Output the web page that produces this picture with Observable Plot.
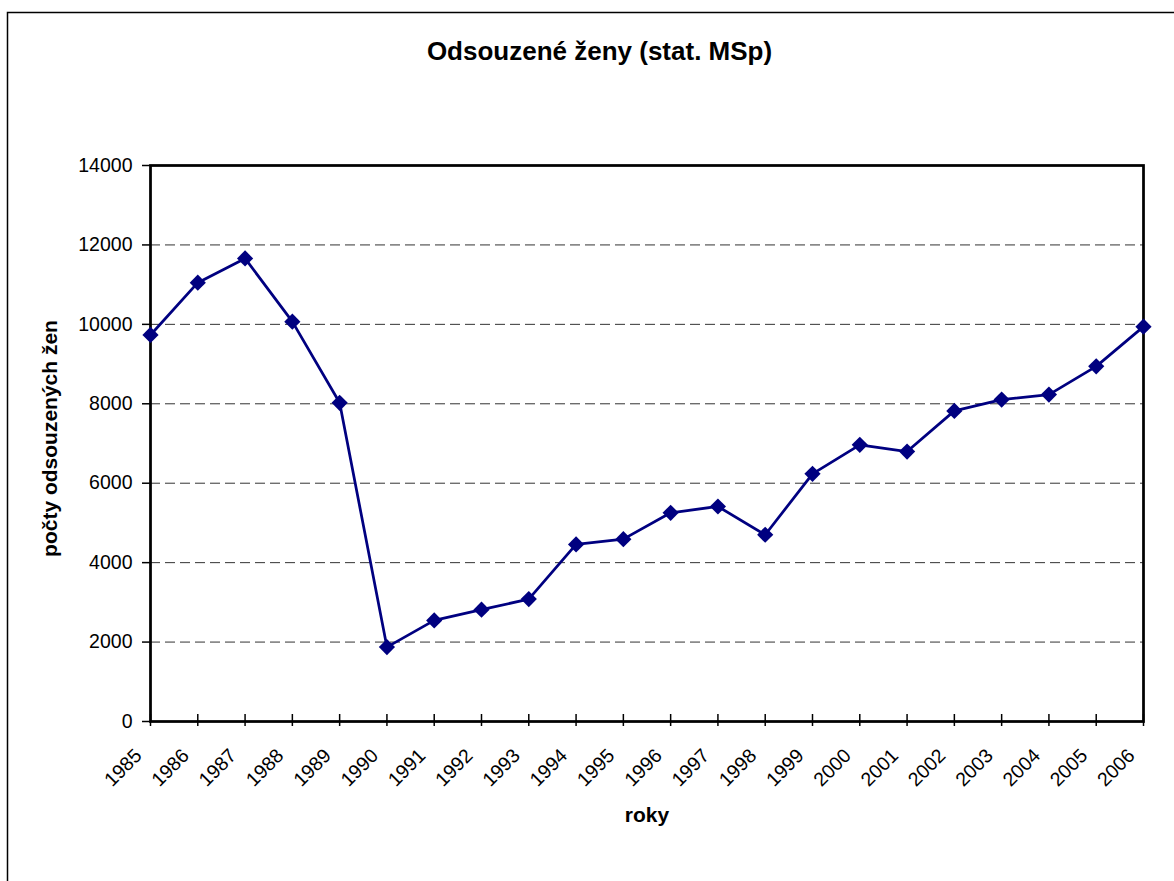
<!DOCTYPE html>
<html>
<head>
<meta charset="utf-8">
<script src="https://cdn.jsdelivr.net/npm/d3@7"></script>
<script src="https://cdn.jsdelivr.net/npm/@observablehq/plot@0.6"></script>
<style>
  html, body { margin: 0; padding: 0; background: #fff; }
  #chart { width: 1174px; height: 881px; overflow: hidden; }
</style>
</head>
<body>
<div id="chart"></div>
<script>
const title = "Odsouzené ženy (stat. MSp)";
const yLabel = "počty odsouzených žen";
const xLabel = "roky";
const years = ["1985","1986","1987","1988","1989","1990","1991","1992","1993","1994","1995",
               "1996","1997","1998","1999","2000","2001","2002","2003","2004","2005","2006"];
const counts = [9733, 11049, 11660, 10068, 8025, 1874, 2546, 2815, 3082, 4458, 4591,
                5255, 5414, 4702, 6236, 6966, 6797, 7821, 8106, 8231, 8943, 9942];
const yTicks = [0, 2000, 4000, 6000, 8000, 10000, 12000, 14000];
const gridTicks = [2000, 4000, 6000, 8000, 10000, 12000];

const data = years.map((year, i) => ({year, count: counts[i]}));

const font = "Arial, 'Liberation Sans', Helvetica, sans-serif";

const plot = Plot.plot({
  width: 1174,
  height: 881,
  marginLeft: 150,
  marginRight: 31,
  marginTop: 165,
  marginBottom: 160,
  style: {fontFamily: font, background: "transparent", color: "#000", overflow: "visible"},
  x: {type: "point", domain: years, padding: 0, round: false},
  y: {domain: [0, 14000]},
  marks: [
    Plot.gridY(gridTicks, {stroke: "#333", strokeOpacity: 1, strokeWidth: 1, strokeDasharray: "10,5"}),
    Plot.axisY(yTicks, {tickSize: 8, tickPadding: 10, tickFormat: d => String(d), fontSize: 19.5, label: null, strokeWidth: 1.5}),
    Plot.axisX(years, {tickSize: 12, dy: -7, tickFormat: () => "", label: null, strokeWidth: 1.5}),
    Plot.text(years, {x: d => d, frameAnchor: "bottom", dy: 31, dx: -12, rotate: -45,
                      textAnchor: "end", lineAnchor: "middle", fontSize: 19.5, fill: "#000"}),
    Plot.frame({stroke: "#000", strokeWidth: 2.75}),
    Plot.line(data, {x: "year", y: "count", stroke: "#000080", strokeWidth: 2.75}),
    Plot.dot(data, {x: "year", y: "count", symbol: "diamond2", r: 7.3, fill: "#000080", stroke: "none"}),
    Plot.text([title], {frameAnchor: "top-left", dx: 449, dy: -105.5, textAnchor: "middle", lineAnchor: "bottom",
                        fontSize: 26, fontWeight: "bold", fill: "#000"}),
    Plot.text([yLabel], {frameAnchor: "left", dx: -100, dy: -5, rotate: -90, textAnchor: "middle", lineAnchor: "middle",
                         fontSize: 21, fontWeight: "bold", fill: "#000"}),
    Plot.text([xLabel], {frameAnchor: "bottom", dy: 100.5, textAnchor: "middle", lineAnchor: "bottom",
                         fontSize: 21, fontWeight: "bold", fill: "#000"})
  ]
});

d3.select(plot).insert("rect", ":first-child")
  .attr("x", 7.5).attr("y", 12.5).attr("width", 1300).attr("height", 1000)
  .attr("fill", "none").attr("stroke", "#000").attr("stroke-width", 1.5);

document.getElementById("chart").appendChild(plot);
</script>
</body>
</html>
